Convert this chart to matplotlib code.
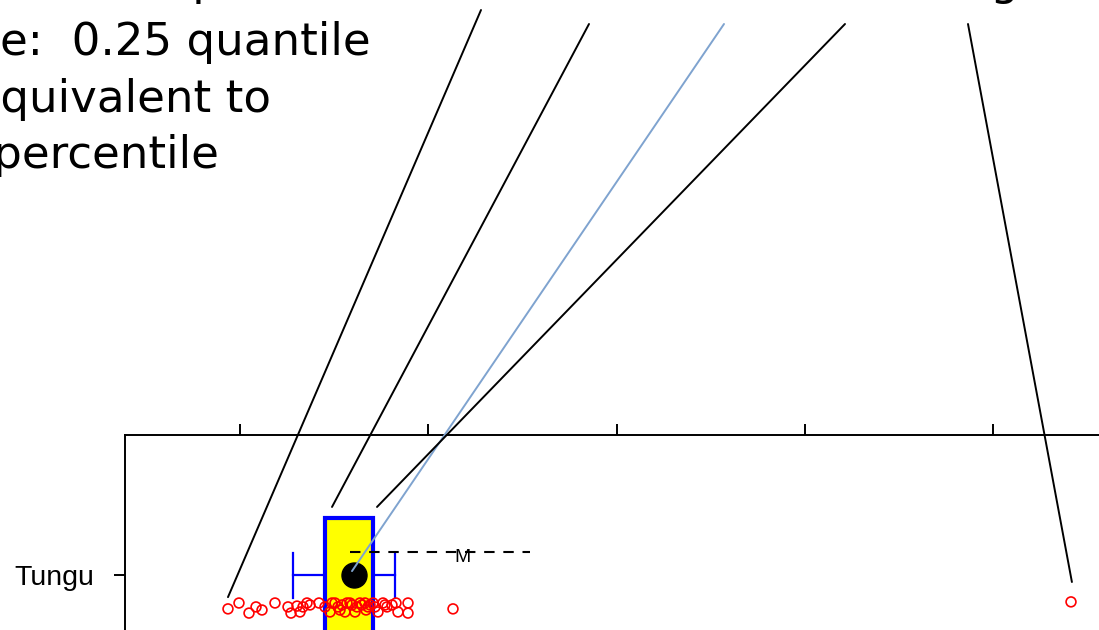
import matplotlib
matplotlib.use('Agg')
import matplotlib.pyplot as plt

# ---- data (x in axis units, y in category units; Tungu = 1) ----
category = ['Tungu']
x_ticks = [0, 50, 100, 150, 200]

q1, q3 = 22.6, 35.3
whisk_lo, whisk_hi = 14.1, 41.2
mean_val = 30.3
m_line = [29.2, 77.0]           # dashed "M" reference segment
m_level = 1.082

pts_x = [-3.19, -0.27, 2.39, 4.25, 5.84, 9.29, 12.75, 13.54, 15.14, 15.93,
         16.73, 17.79, 18.59, 20.98, 22.57, 23.90, 24.43, 25.23, 26.02, 26.55,
         27.08, 27.88, 28.41, 29.21, 29.74, 30.54, 31.07, 31.86, 32.39, 33.19,
         33.46, 33.99, 34.52, 35.32, 35.85, 36.64, 37.97, 38.50, 39.03, 40.36,
         41.42, 41.95, 44.61, 44.61, 56.56, 220.66]
pts_y = [0.879, 0.900, 0.864, 0.886, 0.875, 0.900, 0.886, 0.864, 0.889, 0.868,
         0.886, 0.900, 0.893, 0.900, 0.886, 0.868, 0.900, 0.900, 0.886, 0.875,
         0.893, 0.868, 0.900, 0.900, 0.893, 0.868, 0.886, 0.900, 0.893, 0.900,
         0.875, 0.886, 0.893, 0.900, 0.886, 0.868, 0.900, 0.893, 0.886, 0.893,
         0.900, 0.868, 0.900, 0.864, 0.879, 0.904]

# annotation pointers: target in data, start in figure pixels
ptr_x = [-3.19, 24.43, 29.74, 36.38, 220.9]
ptr_y = [0.921, 1.243, 1.014, 1.243, 0.975]
ptr_fx = [481, 589, 724, 845, 968]
ptr_fy = [620, 606, 606, 606, 606]
ptr_col = ['black', 'black', '#7FA3CF', 'black', 'black']

top_labels = ['Raw points,', 'Lowest,', '25%,', 'Mid,', '75%,', 'Highest']
note_lines = ['Lower hinge:  0.25 quantile', '(equivalent to', '25th percentile']

W, H = 1099, 630
fig = plt.figure(figsize=(W / 100, H / 100), dpi=100)

# axes run past the bottom/right edge of the figure (slide crop)
ax = fig.add_axes([125 / W, (H - 715) / H, (1150 - 125) / W, 280 / H])
ax.set_xlim((125 - 240) * 50 / 188.3, (1150 - 240) * 50 / 188.3)
ax.set_ylim(0.5, 1.5)

for s in ['right', 'bottom']:
    ax.spines[s].set_visible(False)
for s in ['top', 'left']:
    ax.spines[s].set_linewidth(1.4)

ax.xaxis.tick_top()
ax.set_xticks(x_ticks)
ax.set_xticklabels([])
ax.set_yticks([1])
ax.set_yticklabels(category, family='Liberation Sans', fontsize=20.5)
ax.tick_params(direction='out', length=8, width=1.4, colors='black')
ax.tick_params(axis='y', pad=14)

# box
ax.fill_between([q1, q3], 0.796, 1.204, color='#FFFF00', zorder=2)
ax.plot([q1, q1, q3, q3, q1], [0.796, 1.204, 1.204, 0.796, 0.796],
        color='#0000FF', lw=3, zorder=3, solid_joinstyle='miter')
# whiskers
ax.plot([whisk_lo, q1], [1, 1], color='#0000FF', lw=1.6, zorder=3)
ax.plot([q3, whisk_hi], [1, 1], color='#0000FF', lw=1.6, zorder=3)
ax.plot([whisk_lo, whisk_lo], [0.918, 1.079], color='#0000FF', lw=1.6, zorder=3)
ax.plot([whisk_hi, whisk_hi], [0.918, 1.079], color='#0000FF', lw=1.6, zorder=3)

# dashed M line
ln, = ax.plot(m_line, [m_level, m_level], color='black', lw=1.5, zorder=4)
ln.set_dashes([5.0, 4.2])
ax.text(59.2, 1.061, 'M', family='Liberation Sans', fontsize=14,
        ha='center', va='center', zorder=5)

# mean dot
ax.plot([mean_val], [1.0], 'o', color='black', markersize=18, zorder=5)

# jittered raw points
ax.scatter(pts_x, pts_y, s=50, facecolors='none', edgecolors='red',
           linewidths=1.2, zorder=6, clip_on=False)

# pointer lines from labels
for x, y, fx, fy, c in zip(ptr_x, ptr_y, ptr_fx, ptr_fy, ptr_col):
    ax.annotate('', xy=(x, y), xycoords='data', xytext=(fx, fy),
                textcoords='figure pixels', annotation_clip=False,
                arrowprops=dict(arrowstyle='-', color=c, lw=1.4,
                                shrinkA=0, shrinkB=0), zorder=7)

# slide text (cropped at the figure edges)
label_right = [345, 542, 665, 778, 922]
for lab, xr in zip(top_labels[:-1], label_right):
    fig.text(xr / W, (H + 5) / H, lab, fontsize=32.5, ha='right',
             va='baseline', family='DejaVu Sans')
fig.text(945 / W, (H + 5) / H, top_labels[-1], fontsize=32.5, ha='left',
         va='baseline', family='DejaVu Sans')

note_right = [371, 271, 219]
note_base = [55, 112, 168]
for txt, xr, yb in zip(note_lines, note_right, note_base):
    fig.text(xr / W, (H - yb) / H, txt, fontsize=32.5, ha='right',
             va='baseline', family='DejaVu Sans')

fig.savefig('out.png', dpi=100)
